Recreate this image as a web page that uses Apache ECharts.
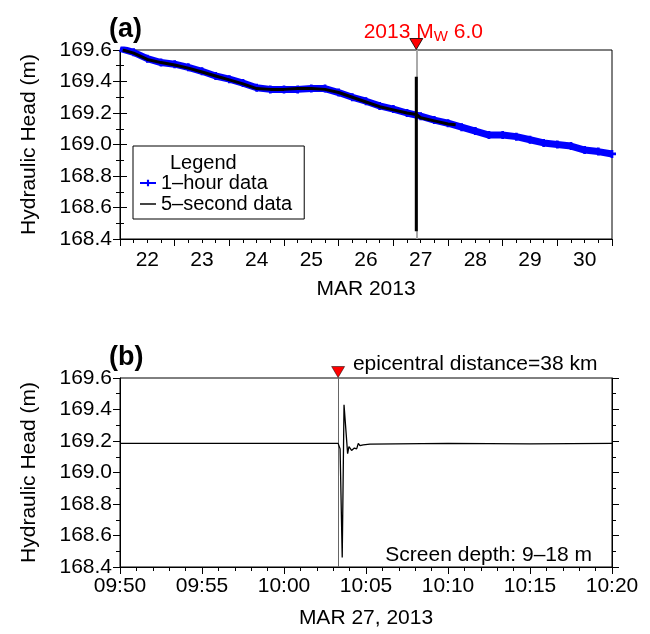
<!DOCTYPE html>
<html>
<head>
<meta charset="utf-8">
<script src="https://cdn.jsdelivr.net/npm/echarts@6/dist/echarts.min.js"></script>
<style>html,body{margin:0;padding:0;background:#fff}#c{width:650px;height:634px}</style>
</head>
<body>
<div id="c"></div>
<script>
// ---- Panel (a): days since MAR 22 00:00, 2013 ----
const dayLabels = ['22','23','24','25','26','27','28','29','30'];
const hourlyDays = [0,0.25,0.5,0.75,1,1.25,1.5,1.75,2,2.25,2.5,2.75,3,3.25,3.5,3.75,4,4.25,4.5,4.75,5,5.25,5.5,5.75,6,6.25,6.5,6.75,7,7.25,7.5,7.75,8,8.25,8.5,8.75,9];
const hourlyHead = [169.61,169.585,169.545,169.52,169.51,169.49,169.465,169.435,169.415,169.39,169.36,169.35,169.35,169.35,169.355,169.355,169.33,169.30,169.275,169.245,169.225,169.20,169.18,169.155,169.135,169.11,169.085,169.06,169.06,169.05,169.03,169.01,169.00,168.99,168.965,168.955,168.94];
const fiveSecDays = [0.05,0.25,0.5,0.75,1,1.25,1.5,1.75,2,2.25,2.5,2.75,3,3.25,3.5,3.75,4,4.25,4.5,4.75,5,5.25,5.42,5.42,5.42,5.42,5.5,5.75,6,6.14];
const fiveSecHead = [169.60,169.58,169.54,169.52,169.505,169.485,169.46,169.435,169.41,169.385,169.355,169.35,169.35,169.355,169.355,169.35,169.33,169.30,169.27,169.24,169.22,169.20,169.19,168.45,169.43,169.19,169.17,169.15,169.13,169.125];
const eventDay = 5.42;

// ---- Panel (b): minutes since 09:50, MAR 27 2013 ----
const timeLabelsB = ['09:50','09:55','10:00','10:05','10:10','10:15','10:20'];
const bMinutes = [0,13.3,13.42,13.55,13.66,13.88,13.96,14.12,14.29,14.43,14.53,14.63,14.83,15.24,20,25,30];
const bHead = [169.185,169.185,169.15,168.46,169.43,169.12,169.165,169.14,169.155,169.15,169.185,169.17,169.175,169.18,169.185,169.182,169.185];
const eventMin = 13.3;

const FONT = 'Liberation Sans, Arial, Helvetica, sans-serif';
const zip = (xs, ys) => xs.map((x, i) => [x, ys[i]]);

const chart = echarts.init(document.getElementById('c'), null, {renderer: 'canvas'});

const yCommon = (gridIndex, right) => ({
  type: 'value', gridIndex, min: 168.4, max: 169.6, interval: 0.2,
  position: right ? 'right' : 'left',
  axisLine: {show: true, lineStyle: {color: '#000', width: 1}},
  axisTick: {show: true, inside: false, length: 7, lineStyle: {color: '#000'}},
  minorTick: {show: true, splitNumber: 2, length: 4, lineStyle: {color: '#000'}},
  splitLine: {show: false},
  axisLabel: right ? {show: false} : {show: true, color: '#000', fontFamily: FONT, fontSize: 21, margin: 8,
    formatter: v => v.toFixed(1)},
  name: right ? '' : 'Hydraulic Head (m)',
  nameLocation: 'middle', nameGap: 80, nameRotate: 90,
  nameTextStyle: {color: '#000', fontFamily: FONT, fontSize: 21}
});

const option = {
  backgroundColor: '#fff',
  animation: false,
  title: [
    {text: '(a)', left: 104, top: 11, textStyle: {fontFamily: FONT, fontSize: 27, fontWeight: 'bold', color: '#000'}},
    {text: '(b)', left: 104, top: 339, textStyle: {fontFamily: FONT, fontSize: 27, fontWeight: 'bold', color: '#000'}},
    {text: 'Legend', left: 165, top: 148, textStyle: {fontFamily: FONT, fontSize: 20, fontWeight: 'normal', color: '#000'}},
    {text: 'Screen depth: 9\u201318 m', right: 53, top: 540, textStyle: {fontFamily: FONT, fontSize: 21, fontWeight: 'normal', color: '#000'}}
  ],
  legend: {
    left: 133, top: 146, orient: 'vertical',
    padding: [27, 12, 5, 6], itemGap: 1, itemWidth: 16, itemHeight: 8,
    borderColor: '#000', borderWidth: 1, backgroundColor: '#fff',
    textStyle: {fontFamily: FONT, fontSize: 20, color: '#000'},
    data: [
      {name: '1\u2013hour data'},
      {name: '5\u2013second data', itemStyle: {opacity: 0}, lineStyle: {color: '#444', width: 2}}
    ]
  },
  grid: [
    {left: 120, top: 50, width: 492, height: 189, show: true, borderColor: '#000', borderWidth: 1, backgroundColor: 'transparent'},
    {left: 120, top: 378, width: 492, height: 189, show: true, borderColor: '#000', borderWidth: 1, backgroundColor: 'transparent'}
  ],
  xAxis: [
    {type: 'value', gridIndex: 0, min: 0, max: 9, interval: 1, position: 'bottom',
     axisLine: {show: true, onZero: false, lineStyle: {color: '#000'}},
     axisTick: {show: true, length: 7, lineStyle: {color: '#000'}},
     minorTick: {show: true, splitNumber: 4, length: 4, lineStyle: {color: '#000'}},
     axisLabel: {show: false}, splitLine: {show: false},
     name: 'MAR 2013', nameLocation: 'middle', nameGap: 40,
     nameTextStyle: {color: '#000', fontFamily: FONT, fontSize: 21}},
    {type: 'value', gridIndex: 0, min: 0, max: 9, interval: 0.5, position: 'bottom',
     axisLine: {show: false, onZero: false}, axisTick: {show: false}, splitLine: {show: false},
     axisLabel: {show: true, color: '#000', fontFamily: FONT, fontSize: 21, margin: 11,
       formatter: v => (Math.abs(v % 1 - 0.5) < 1e-6 ? dayLabels[Math.floor(v)] : '')}},
    {type: 'value', gridIndex: 1, min: 0, max: 30, interval: 5, position: 'bottom',
     axisLine: {show: true, onZero: false, lineStyle: {color: '#000'}},
     axisTick: {show: true, length: 7, lineStyle: {color: '#000'}},
     minorTick: {show: true, splitNumber: 5, length: 4, lineStyle: {color: '#000'}},
     splitLine: {show: false},
     axisLabel: {show: true, color: '#000', fontFamily: FONT, fontSize: 21, margin: 9,
       formatter: v => timeLabelsB[Math.round(v / 5)]},
     name: 'MAR 27, 2013', nameLocation: 'middle', nameGap: 41,
     nameTextStyle: {color: '#000', fontFamily: FONT, fontSize: 21}}
  ],
  yAxis: [yCommon(0, false), yCommon(0, true), yCommon(1, false), yCommon(1, true)],
  series: [
    {
      name: '1\u2013hour data', type: 'line', xAxisIndex: 0, yAxisIndex: 0, z: 2,
      data: zip(hourlyDays, hourlyHead),
      symbol: 'path://M2,0H4V2H6V4H4V6H2V4H0V2H2Z', symbolSize: 8, showSymbol: true,
      itemStyle: {color: '#0000ff'}, lineStyle: {color: '#0000ff', width: 7},
      markLine: {
        silent: true, z: 1, symbol: 'none', label: {show: false},
        lineStyle: {color: '#aaaaaa', width: 2, type: 'solid'},
        data: [{xAxis: eventDay}]
      },
      markPoint: {
        silent: true,
        data: [{coord: [eventDay, 169.6]}],
        symbol: 'triangle', symbolRotate: 180, symbolSize: [13, 11], symbolOffset: [0, -6],
        itemStyle: {color: '#ff0000', borderColor: '#000', borderWidth: 0.8},
        label: {
          show: true, position: 'top', distance: 2, offset: [7, 8],
          formatter: '{m|2013 M}{s|W}{m| 6.0}',
          rich: {
            m: {color: '#ff0000', fontFamily: FONT, fontSize: 21, lineHeight: 24, verticalAlign: 'middle'},
            s: {color: '#ff0000', fontFamily: FONT, fontSize: 15, lineHeight: 24, verticalAlign: 'bottom', padding: [10, 0, 0, 0]}
          }
        }
      }
    },
    {
      name: '5\u2013second data', type: 'line', xAxisIndex: 0, yAxisIndex: 0, z: 3,
      data: zip(fiveSecDays, fiveSecHead),
      symbol: 'none', itemStyle: {color: '#000'}, lineStyle: {color: '#000', width: 3, join: 'bevel'}
    },
    {
      name: 'panel b', type: 'line', xAxisIndex: 2, yAxisIndex: 2, z: 3,
      data: zip(bMinutes, bHead),
      symbol: 'none', itemStyle: {color: '#000'}, lineStyle: {color: '#000', width: 1.3},
      markLine: {
        silent: true, z: 1, symbol: 'none', label: {show: false},
        lineStyle: {color: '#666666', width: 1, type: 'solid'},
        data: [{xAxis: eventMin}]
      },
      markPoint: {
        silent: true,
        data: [{coord: [eventMin, 169.6]}],
        symbol: 'triangle', symbolRotate: 180, symbolSize: [13, 11], symbolOffset: [0, -6],
        itemStyle: {color: '#ff0000', borderColor: '#000', borderWidth: 0.5},
        label: {
          show: true, position: 'right', distance: 8, offset: [0, -8],
          formatter: 'epicentral distance=38 km',
          color: '#000', fontFamily: FONT, fontSize: 21
        }
      }
    }
  ]
};
chart.setOption(option);
</script>
</body>
</html>
